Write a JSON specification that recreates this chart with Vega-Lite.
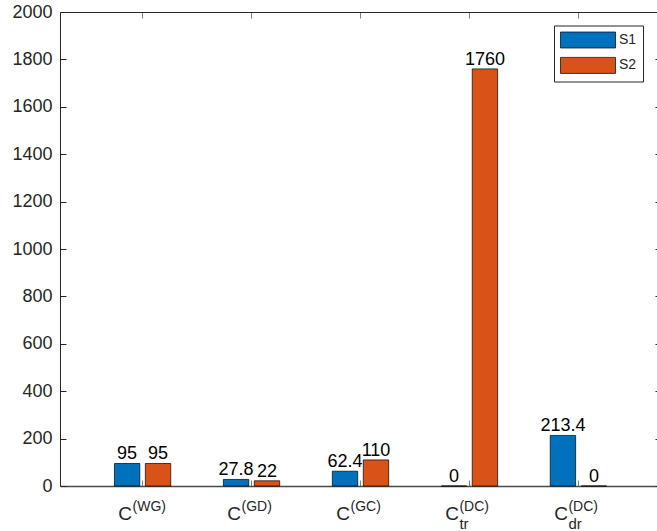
{
  "$schema": "https://vega.github.io/schema/vega-lite/v6.json",
  "width": 601,
  "height": 474,
  "autosize": {"type": "none"},
  "padding": {"left": 60, "top": 12, "right": 0, "bottom": 45},
  "background": "white",
  "config": {
    "view": {"stroke": null},
    "font": "Liberation Sans",
    "axis": {
      "grid": false,
      "domainColor": "#262626",
      "tickColor": "#262626",
      "labelColor": "#262626",
      "labelFont": "Liberation Sans",
      "tickSize": -6,
      "title": null
    }
  },
  "data": {
    "values": [
      {"cat": "WG", "series": "S1", "value": 95},
      {"cat": "WG", "series": "S2", "value": 95},
      {"cat": "GD", "series": "S1", "value": 27.8},
      {"cat": "GD", "series": "S2", "value": 22},
      {"cat": "GC", "series": "S1", "value": 62.4},
      {"cat": "GC", "series": "S2", "value": 110},
      {"cat": "tr", "series": "S1", "value": 0},
      {"cat": "tr", "series": "S2", "value": 1760},
      {"cat": "dr", "series": "S1", "value": 213.4},
      {"cat": "dr", "series": "S2", "value": 0}
    ]
  },
  "layer": [
    {
      "mark": {"type": "bar", "stroke": "black", "strokeWidth": 0.7},
      "encoding": {
        "x": {
          "field": "cat", "type": "nominal",
          "scale": {"type": "band", "domain": ["WG", "GD", "GC", "tr", "dr"], "paddingInner": 0, "paddingOuter": 0.258},
          "axis": {
            "orient": "bottom",
            "labelExpr": "'C'",
            "labelFontSize": 19,
            "labelAlign": "right",
            "labelBaseline": "alphabetic",
            "labelOffset": -10.5,
            "labelPadding": 39,
            "labelAngle": 0,
            "domainWidth": 1.5,
            "domainColor": "#4a4a4a",
            "tickWidth": 0.6
          }
        },
        "xOffset": {
          "field": "series", "type": "nominal",
          "scale": {"domain": ["S1", "S2"], "paddingInner": 0.18, "paddingOuter": 0.85}
        },
        "y": {
          "field": "value", "type": "quantitative",
          "scale": {"domain": [0, 2000], "nice": false},
          "axis": {
            "orient": "left",
            "values": [0, 200, 400, 600, 800, 1000, 1200, 1400, 1600, 1800, 2000],
            "labelFontSize": 18,
            "labelPadding": 14,
            "format": "d"
          }
        },
        "color": {
          "field": "series", "type": "nominal",
          "scale": {"domain": ["S1", "S2"], "range": ["#0072BD", "#D95319"]},
          "legend": {
            "title": null,
            "orient": "none",
            "legendX": 494,
            "legendY": 13.5,
            "symbolType": "M-1,-1H5.875V1H-1Z",
            "symbolSize": 256,
            "symbolStrokeColor": "black",
            "symbolStrokeWidth": 0.7,
            "symbolOpacity": 1,
            "labelFontSize": 14,
            "labelColor": "#262626",
            "labelOffset": 42,
            "labelExpr": "datum.label + '\u00a0\u00a0\u00a0'",
            "rowPadding": 6.4,
            "padding": 6,
            "strokeColor": "#262626",
            "fillColor": "white"
          }
        }
      }
    },
    {
      "mark": {"type": "text", "baseline": "alphabetic", "dy": -4, "fontSize": 18, "color": "black"},
      "encoding": {
        "x": {
          "field": "cat", "type": "nominal",
          "axis": {
            "orient": "bottom",
            "labelExpr": "datum.value == 'tr' || datum.value == 'dr' ? '(DC)' : '(' + datum.value + ')'",
            "labelFontSize": 14,
            "labelAlign": "left",
            "labelBaseline": "alphabetic",
            "labelOffset": -10,
            "labelPadding": 24.3,
            "labelAngle": 0,
            "ticks": false,
            "domain": false
          }
        },
        "xOffset": {"field": "series", "type": "nominal"},
        "y": {
          "field": "value", "type": "quantitative",
          "axis": {
            "orient": "right",
            "values": [0, 200, 400, 600, 800, 1000, 1200, 1400, 1600, 1800, 2000],
            "labels": false
          }
        },
        "text": {"field": "value", "type": "quantitative"}
      }
    },
    {
      "mark": {"type": "text", "text": ""},
      "encoding": {
        "x": {
          "field": "cat", "type": "nominal",
          "axis": {
            "orient": "bottom",
            "labelExpr": "datum.value == 'tr' || datum.value == 'dr' ? datum.value : ''",
            "labelFontSize": 15,
            "labelAlign": "left",
            "labelBaseline": "alphabetic",
            "labelOffset": -10,
            "labelPadding": 42.5,
            "labelAngle": 0,
            "ticks": false,
            "domain": false
          }
        },
        "y": {"field": "value", "type": "quantitative", "axis": null}
      }
    },
    {
      "mark": {"type": "text", "text": ""},
      "encoding": {
        "x": {
          "field": "cat", "type": "nominal",
          "axis": {
            "orient": "top",
            "labels": false,
            "tickWidth": 0.6
          }
        },
        "y": {"field": "value", "type": "quantitative", "axis": null}
      }
    }
  ],
  "resolve": {"axis": {"x": "independent", "y": "independent"}}
}
